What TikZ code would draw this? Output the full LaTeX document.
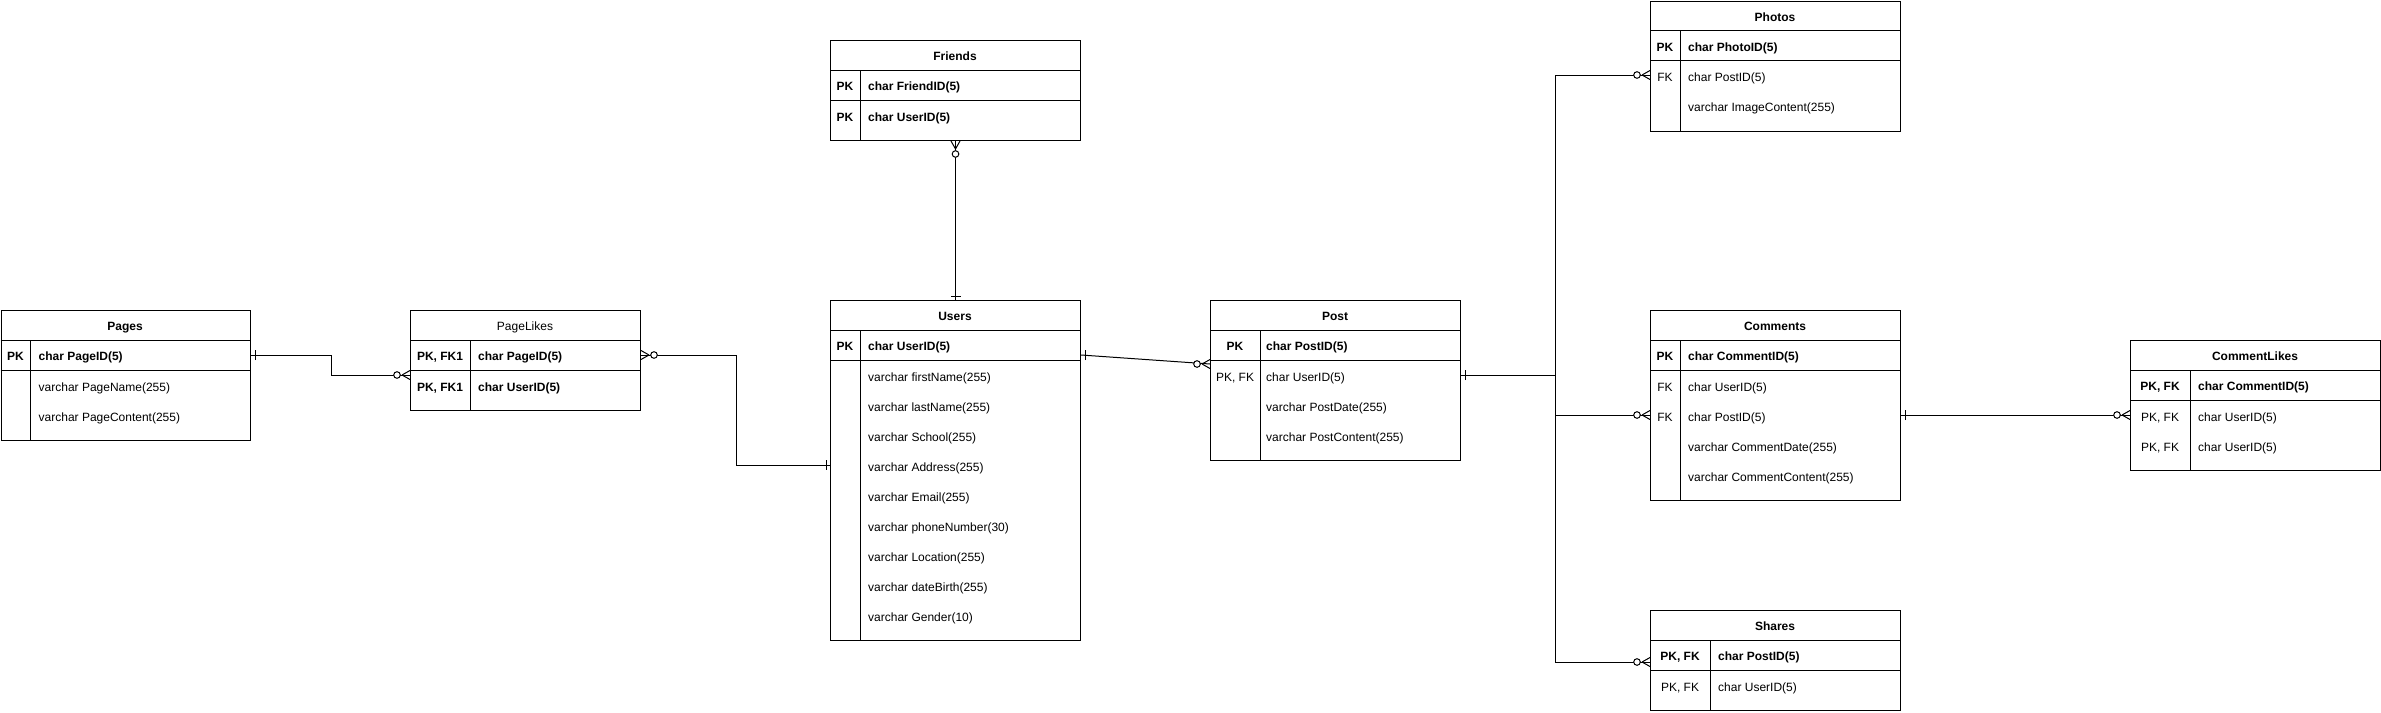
\documentclass[tikz,border=0pt]{standalone}
\usepackage{fontspec}
\setmainfont{Liberation Sans}
\usepackage{tikz}

\tikzset{
    tbl/.style={draw, line width=1pt, rectangle, anchor=north west, inner sep=0pt},
    sep/.style={line width=1pt},
    conn/.style={line width=1pt},
    txt/.style={inner sep=0pt, yshift=-1.5pt, text height=8.6pt, text depth=0pt, font=\fontsize{12}{14}\selectfont},
    bold/.style={font=\fontsize{12}{14}\selectfont\bfseries},
    fld/.style={txt, anchor=west},
    ermone/.pic={\draw[conn] (-4,-5) -- (-4,5);},
    ermany/.pic={\draw[conn] (-8,0) -- (0,-4.5) (-8,0) -- (0,4.5);
        \draw[conn, fill=white] (-13,0) circle (3.3);}
}

\begin{document}
\begin{tikzpicture}[x=1pt, y=-1pt]
    \useasboundingbox (0,0) rectangle (2381,712);

    \node[tbl, minimum width=249.5pt, minimum height=130pt] (pages) at (0.5,310) {};
    \draw[sep] (pages.north west) ++(0,30) -- ++(249.5,0) ++(-249.5,30) -- ++(249.5,0);
    \draw[sep] ([xshift=30pt]pages.north west) ++(0,30) -- ([xshift=30pt]pages.south west);
    \node[txt, bold] (pages-title) at (125,325) {Pages};
    \node[txt, bold] (pages-pk) at (15.5,355) {PK};
    \node[fld, bold] (pages-id) at (38.5,355) {char PageID(5)};
    \node[fld] (pages-name) at (38.5,386) {varchar PageName(255)};
    \node[fld] (pages-content) at (38.5,416) {varchar PageContent(255)};

    \node[tbl, minimum width=230pt, minimum height=100pt] (pagelikes) at (410,310) {};
    \draw[sep] (pagelikes.north west) ++(0,30) -- ++(230,0) ++(-230,30) -- ++(230,0);
    \draw[sep] ([xshift=60pt]pagelikes.north west) ++(0,30) -- ([xshift=60pt]pagelikes.south west);
    \node[txt] (pagelikes-title) at (525,325) {PageLikes};
    \node[txt, bold] (pagelikes-k1) at (440,355) {PK, FK1};
    \node[fld, bold] (pagelikes-page) at (478,355) {char PageID(5)};
    \node[txt, bold] (pagelikes-k2) at (440,386) {PK, FK1};
    \node[fld, bold] (pagelikes-user) at (478,386) {char UserID(5)};

    \node[tbl, minimum width=250pt, minimum height=100pt] (friends) at (830,40) {};
    \draw[sep] (friends.north west) ++(0,30) -- ++(250,0) ++(-250,30) -- ++(250,0);
    \draw[sep] ([xshift=30pt]friends.north west) ++(0,30) -- ([xshift=30pt]friends.south west);
    \node[txt, bold] (friends-title) at (955,55) {Friends};
    \node[txt, bold] (friends-k1) at (845,85) {PK};
    \node[fld, bold] (friends-id) at (868,85) {char FriendID(5)};
    \node[txt, bold] (friends-k2) at (845,116) {PK};
    \node[fld, bold] (friends-user) at (868,116) {char UserID(5)};

    \node[tbl, minimum width=250pt, minimum height=340pt] (users) at (830,300) {};
    \draw[sep] (users.north west) ++(0,30) -- ++(250,0) ++(-250,30) -- ++(250,0);
    \draw[sep] ([xshift=30pt]users.north west) ++(0,30) -- ([xshift=30pt]users.south west);
    \node[txt, bold] (users-title) at (955,315) {Users};
    \node[txt, bold] (users-pk) at (845,345) {PK};
    \node[fld, bold] (users-id) at (868,345) {char UserID(5)};
    \foreach \f [count=\i] in {firstName(255), lastName(255), School(255), Address(255),
        Email(255), phoneNumber(30), Location(255), dateBirth(255), Gender(10)}
        \node[fld] (users-f\i) at (868,346+30*\i) {varchar \f};

    \node[tbl, minimum width=250pt, minimum height=160pt] (post) at (1210,300) {};
    \draw[sep] (post.north west) ++(0,30) -- ++(250,0) ++(-250,30) -- ++(250,0);
    \draw[sep] ([xshift=50pt]post.north west) ++(0,30) -- ([xshift=50pt]post.south west);
    \node[txt, bold] (post-title) at (1335,315) {Post};
    \node[txt, bold] (post-pk) at (1235,345) {PK};
    \node[fld, bold] (post-id) at (1266,345) {char PostID(5)};
    \node[txt] (post-fk) at (1235,376) {PK, FK};
    \node[fld] (post-user) at (1266,376) {char UserID(5)};
    \node[fld] (post-date) at (1266,406) {varchar PostDate(255)};
    \node[fld] (post-content) at (1266,436) {varchar PostContent(255)};

    \node[tbl, minimum width=250pt, minimum height=130pt] (photos) at (1650,0.5) {};
    \draw[sep] (photos.north west) ++(0,30) -- ++(250,0) ++(-250,30) -- ++(250,0);
    \draw[sep] ([xshift=30pt]photos.north west) ++(0,30) -- ([xshift=30pt]photos.south west);
    \node[txt, bold] (photos-title) at (1775,15.5) {Photos};
    \node[txt, bold] (photos-pk) at (1665,45.5) {PK};
    \node[fld, bold] (photos-id) at (1688,45.5) {char PhotoID(5)};
    \node[txt] (photos-fk) at (1665,76) {FK};
    \node[fld] (photos-post) at (1688,76) {char PostID(5)};
    \node[fld] (photos-image) at (1688,106) {varchar ImageContent(255)};

    \node[tbl, minimum width=250pt, minimum height=190pt] (comments) at (1650,310) {};
    \draw[sep] (comments.north west) ++(0,30) -- ++(250,0) ++(-250,30) -- ++(250,0);
    \draw[sep] ([xshift=30pt]comments.north west) ++(0,30) -- ([xshift=30pt]comments.south west);
    \node[txt, bold] (comments-title) at (1775,325) {Comments};
    \node[txt, bold] (comments-pk) at (1665,355) {PK};
    \node[fld, bold] (comments-id) at (1688,355) {char CommentID(5)};
    \node[txt] (comments-fk1) at (1665,386) {FK};
    \node[fld] (comments-user) at (1688,386) {char UserID(5)};
    \node[txt] (comments-fk2) at (1665,416) {FK};
    \node[fld] (comments-post) at (1688,416) {char PostID(5)};
    \node[fld] (comments-date) at (1688,446) {varchar CommentDate(255)};
    \node[fld] (comments-content) at (1688,476) {varchar CommentContent(255)};

    \node[tbl, minimum width=250pt, minimum height=100pt] (shares) at (1650,610) {};
    \draw[sep] (shares.north west) ++(0,30) -- ++(250,0) ++(-250,30) -- ++(250,0);
    \draw[sep] ([xshift=60pt]shares.north west) ++(0,30) -- ([xshift=60pt]shares.south west);
    \node[txt, bold] (shares-title) at (1775,625) {Shares};
    \node[txt, bold] (shares-k1) at (1680,655) {PK, FK};
    \node[fld, bold] (shares-post) at (1718,655) {char PostID(5)};
    \node[txt] (shares-k2) at (1680,686) {PK, FK};
    \node[fld] (shares-user) at (1718,686) {char UserID(5)};

    \node[tbl, minimum width=250pt, minimum height=130pt] (commentlikes) at (2130,340) {};
    \draw[sep] (commentlikes.north west) ++(0,30) -- ++(250,0) ++(-250,30) -- ++(250,0);
    \draw[sep] ([xshift=60pt]commentlikes.north west) ++(0,30) -- ([xshift=60pt]commentlikes.south west);
    \node[txt, bold] (commentlikes-title) at (2255,355) {CommentLikes};
    \node[txt, bold] (commentlikes-k1) at (2160,385) {PK, FK};
    \node[fld, bold] (commentlikes-id) at (2198,385) {char CommentID(5)};
    \node[txt] (commentlikes-k2) at (2160,416) {PK, FK};
    \node[fld] (commentlikes-user1) at (2198,416) {char UserID(5)};
    \node[txt] (commentlikes-k3) at (2160,446) {PK, FK};
    \node[fld] (commentlikes-user2) at (2198,446) {char UserID(5)};

    \coordinate (hub) at (1555,375);

    \draw[conn] (pages.east |- 0,355) -- ++(80,0) |- (pagelikes.west |- 0,375);
    \draw[conn] (pagelikes.east |- 0,355) -- ++(95,0) |- (users.west |- 0,465);
    \draw[conn] (friends.south) -- (users.north);
    \draw[conn] (users.east |- 0,355) -- (post.west |- 0,364);
    \draw[conn] (post.east |- hub) -- (hub);
    \draw[conn] (photos.west |- 0,75) -| (hub);
    \draw[conn] (comments.west |- 0,415) -| (hub);
    \draw[conn] (shares.west |- 0,662) -| (hub);
    \draw[conn] (comments.east |- 0,415) -- (commentlikes.west |- 0,415);

    \pic[rotate=180] at (pages.east |- 0,355) {ermone};
    \pic at (pagelikes.west |- 0,375) {ermany};
    \pic[rotate=180] at (pagelikes.east |- 0,355) {ermany};
    \pic at (users.west |- 0,465) {ermone};
    \pic[rotate=90] at (friends.south) {ermany};
    \pic[rotate=-90] at (users.north) {ermone};
    \pic[rotate=180] at (users.east |- 0,355) {ermone};
    \pic at (post.west |- 0,364) {ermany};
    \pic[rotate=180] at (post.east |- hub) {ermone};
    \pic at (photos.west |- 0,75) {ermany};
    \pic at (comments.west |- 0,415) {ermany};
    \pic at (shares.west |- 0,662) {ermany};
    \pic[rotate=180] at (comments.east |- 0,415) {ermone};
    \pic at (commentlikes.west |- 0,415) {ermany};
\end{tikzpicture}
\end{document}
